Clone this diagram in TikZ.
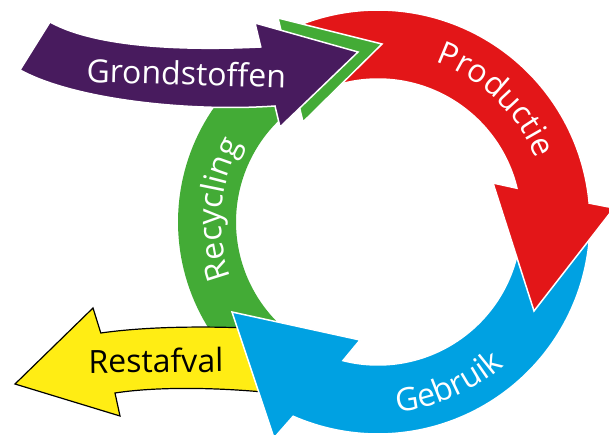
\documentclass[tikz,border=0pt]{standalone}
\usepackage{fontspec}
\setmainfont{Open Sans}
\usetikzlibrary{decorations.text}
\definecolor{cpurple}{RGB}{72,27,94}
\definecolor{cred}{RGB}{227,22,24}
\definecolor{cblue}{RGB}{0,161,226}
\definecolor{cgreen}{RGB}{67,171,54}
\definecolor{cyellow}{RGB}{255,237,20}
\newcommand\labfont{\fontsize{32}{32}\selectfont}
\begin{document}
\begin{tikzpicture}[x=1pt,y=-1pt,
  wline/.style={draw=white,line width=1.5pt,line join=miter},
  lbl/.style={font=\labfont,anchor=base,inner sep=0pt}]
\useasboundingbox (0,0) rectangle (609,435);
\clip (0,0) rectangle (609,435);
\fill[white] (0,0) rectangle (609,435);
% green shaft (Recycling)
\fill[cgreen] plot[domain=230:117.9,samples=60] ({378+200*cos(\x)},{222-200*sin(\x)})
  -- plot[domain=123.9:230,samples=60] ({378+142*cos(\x)},{222-142*sin(\x)}) -- cycle;
% yellow (Restafval)
\filldraw[fill=cyellow,draw=black,line width=1.2pt,line join=miter]
  (15,384) -- (93,308) -- (100.8,333) .. controls (150,326) and (220,325) .. (300,331)
  -- (300,396) .. controls (230,387) and (160,386) .. (115,393) -- (120,416) -- cycle;
% blue (Gebruik)
\filldraw[fill=cblue,wline] plot[domain=4:-113.6,samples=80] ({378+212*cos(\x)},{222-212*sin(\x)})
  -- (274,438) -- (232,312) -- (360,340)
  -- plot[domain=-104.2:4,samples=80] ({378+143*cos(\x)},{222-143*sin(\x)}) -- cycle;
% red (Productie)
\filldraw[fill=cred,wline] plot[domain=115:5.1,samples=80] ({378+212*cos(\x)},{222-212*sin(\x)})
  -- (614,208) -- (534,311) -- (493,183)
  -- plot[domain=13.65:115,samples=80] ({378+143*cos(\x)},{222-143*sin(\x)}) -- cycle;
% green head
\filldraw[fill=cgreen,wline] (284.5,45.2) -- (278,18) -- (382,44) -- (303,122) -- (298.7,104.2) -- cycle;
% purple (Grondstoffen)
\filldraw[fill=cpurple,wline] (50,22) .. controls (100,50) and (200,50) .. (260.8,47)
  -- (255,23) -- (358,52) -- (280,127) -- (275,106) .. controls (190,112) and (75,100) .. (20,70) -- cycle;
% labels
\node[lbl,text=white,rotate=-1.5] (tgrond) at (186,85) {Grondstoffen};
\node[lbl,text=black,rotate=0.5] (trest) at (156,372.5) {Restafval};
\path[decorate,decoration={text along path,text align=center,text={|\color{white}\labfont|Productie}}]
  plot[domain=76:16,samples=60] ({378+170*cos(\x)},{222-170*sin(\x)});
\path[decorate,decoration={text along path,text align=center,text={|\color{white}\labfont|Gebruik}}]
  plot[domain=-97:-36,samples=60] ({378+191*cos(\x)},{222-191*sin(\x)});
\path[decorate,decoration={text along path,text align=center,text={|\color{white}\labfont|Recycling}}]
  plot[domain=205:146,samples=60] ({378+157*cos(\x)},{222-157*sin(\x)});
\end{tikzpicture}
\end{document}
